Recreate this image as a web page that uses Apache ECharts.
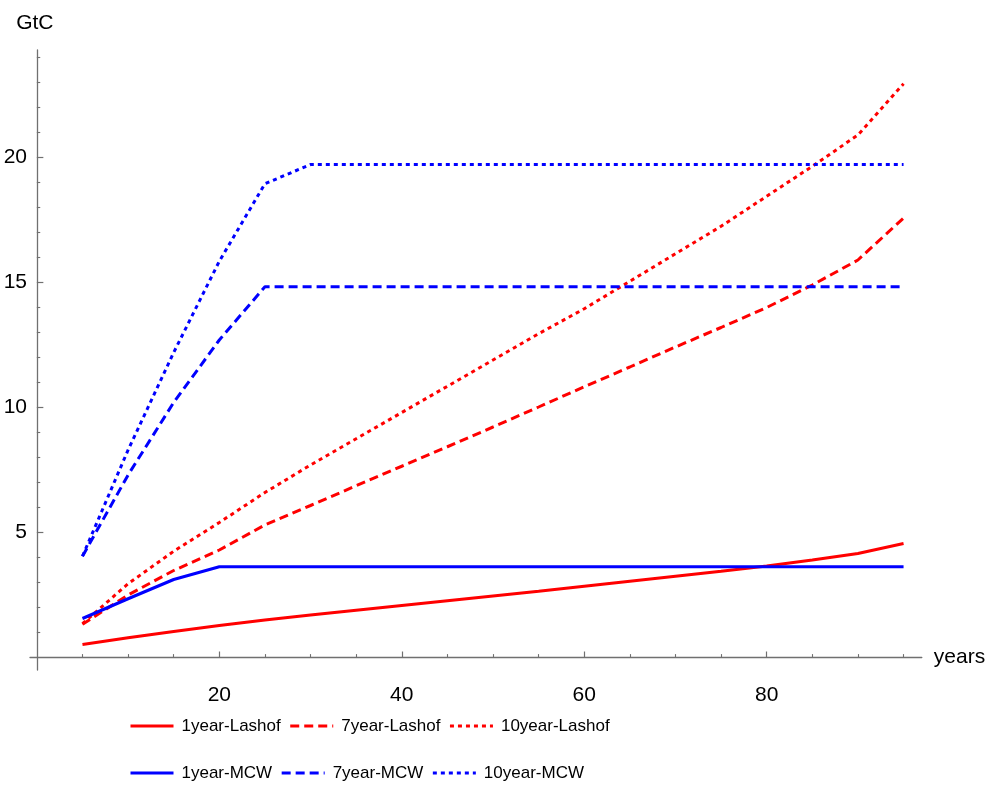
<!DOCTYPE html>
<html>
<head>
<meta charset="utf-8">
<script src="https://cdn.jsdelivr.net/npm/echarts@6/dist/echarts.min.js"></script>
<style>
html,body{margin:0;padding:0;background:#fff;}
#chart{width:992px;height:787px;}
</style>
</head>
<body>
<div id="chart"></div>
<script>
// x positions (years)
const years = [5,10,15,20,25,30,35,40,45,50,55,60,65,70,75,80,85,90,95];
// series values (GtC)
const lashof1  = [0.52,0.79,1.04,1.28,1.5,1.7,1.89,2.08,2.27,2.46,2.65,2.85,3.05,3.25,3.45,3.66,3.9,4.16,4.56];
const lashof7  = [1.33,2.5,3.48,4.3,5.3,6.08,6.87,7.65,8.43,9.22,10.02,10.83,11.62,12.42,13.2,14.0,14.9,15.9,17.58];
const lashof10 = [1.35,2.95,4.25,5.4,6.6,7.7,8.75,9.8,10.85,11.9,12.95,13.95,15.05,16.15,17.25,18.45,19.65,20.9,22.95];
const mcw1  = [1.56,2.35,3.12,3.63,3.63,3.63,3.63,3.63,3.63,3.63,3.63,3.63,3.63,3.63,3.63,3.63,3.63,3.63,3.63];
const mcw7  = [4.05,7.3,10.2,12.7,14.83,14.83,14.83,14.83,14.83,14.83,14.83,14.83,14.83,14.83,14.83,14.83,14.83,14.83,14.83];
const mcw10 = [4.05,8.3,12.2,15.85,18.95,19.72,19.72,19.72,19.72,19.72,19.72,19.72,19.72,19.72,19.72,19.72,19.72,19.72,19.72];
// tick labels
const xMajorTicks = [20,40,60,80];
const xMinorTicks = [5,10,15,25,30,35,45,50,55,65,70,75,85,90,95];
const yMajorTicks = [5,10,15,20];
const yMinorTicks = [1,2,3,4,6,7,8,9,11,12,13,14,16,17,18,19,21,22,23,24];
const seriesNames = ['1year-Lashof','7year-Lashof','10year-Lashof','1year-MCW','7year-MCW','10year-MCW'];

const FONT = '"Liberation Sans", Arial, sans-serif';
const AX = '#707070';
const DASH = [9,5];
const DOT = [4,4];

function pairs(vals){ return years.map((y,i)=>[y, vals[i]]); }
function mk(name, vals, color, type){
  return {
    name: name, type: 'line', data: pairs(vals), xAxisIndex: 0, yAxisIndex: 0,
    symbol: 'none', symbolSize: 0, showSymbol: false, silent: true, animation: false,
    lineStyle: {color: color, width: 3, type: type, cap: 'butt'},
    itemStyle: {color: color}
  };
}

const legendCommon = {
  orient: 'horizontal', left: 129, padding: 0,
  itemWidth: 43, itemHeight: 20, itemGap: 8, selectedMode: false,
  itemStyle: {opacity: 0, borderWidth: 0},
  lineStyle: {width: 3},
  textStyle: {color: '#000', fontSize: 17, fontFamily: FONT, padding: [0,0,0,3], lineHeight: 20}
};

const xMin = -0.75, xMax = 97, yMin = -0.5, yMax = 24.3;
const chart = echarts.init(document.getElementById('chart'));
const option = {
  animation: false,
  backgroundColor: '#fff',
  grid: {left: 30, top: 50, width: 891.8, height: 620, containLabel: false},
  xAxis: [{
    type: 'value', min: xMin, max: xMax, position: 'bottom',
    name: 'years', nameLocation: 'end', nameGap: 12,
    nameTextStyle: {color: '#000', fontSize: 21, fontFamily: FONT, verticalAlign: 'middle', padding: [6,0,0,0]},
    axisLine: {show: true, onZero: true, lineStyle: {color: AX, width: 1.3}},
    axisTick: {show: true, inside: true, length: 6, customValues: xMajorTicks, lineStyle: {color: AX, width: 1.2}},
    axisLabel: {show: true, customValues: xMajorTicks, margin: 15, color: '#000', fontSize: 21, fontFamily: FONT},
    splitLine: {show: false}
  }, {
    type: 'value', min: xMin, max: xMax, position: 'bottom',
    axisLine: {show: false, onZero: true},
    axisTick: {show: true, inside: true, length: 3.4, customValues: xMinorTicks, lineStyle: {color: AX, width: 1.1}},
    axisLabel: {show: false},
    splitLine: {show: false}
  }],
  yAxis: [{
    type: 'value', min: yMin, max: yMax, position: 'left',
    name: 'GtC', nameLocation: 'end', nameGap: 16,
    nameTextStyle: {color: '#000', fontSize: 21, fontFamily: FONT, padding: [0,0,0,-4]},
    axisLine: {show: true, onZero: true, lineStyle: {color: AX, width: 1.3}},
    axisTick: {show: true, inside: true, length: 6.5, customValues: yMajorTicks, lineStyle: {color: AX, width: 1.2}},
    axisLabel: {show: true, customValues: yMajorTicks, margin: 3, color: '#000', fontSize: 21, fontFamily: FONT},
    splitLine: {show: false}
  }, {
    type: 'value', min: yMin, max: yMax, position: 'left',
    axisLine: {show: false, onZero: true},
    axisTick: {show: true, inside: true, length: 3.4, customValues: yMinorTicks, lineStyle: {color: AX, width: 1.1}},
    axisLabel: {show: false},
    splitLine: {show: false}
  }],
  legend: [
    Object.assign({}, legendCommon, {data: seriesNames.slice(0,3), top: 716}),
    Object.assign({}, legendCommon, {data: seriesNames.slice(3), top: 763})
  ],
  series: [
    mk(seriesNames[0], lashof1, '#ff0000', 'solid'),
    mk(seriesNames[1], lashof7, '#ff0000', DASH),
    mk(seriesNames[2], lashof10, '#ff0000', DOT),
    mk(seriesNames[3], mcw1, '#0000ff', 'solid'),
    mk(seriesNames[4], mcw7, '#0000ff', DASH),
    mk(seriesNames[5], mcw10, '#0000ff', DOT)
  ]
};
chart.setOption(option);
</script>
</body>
</html>
